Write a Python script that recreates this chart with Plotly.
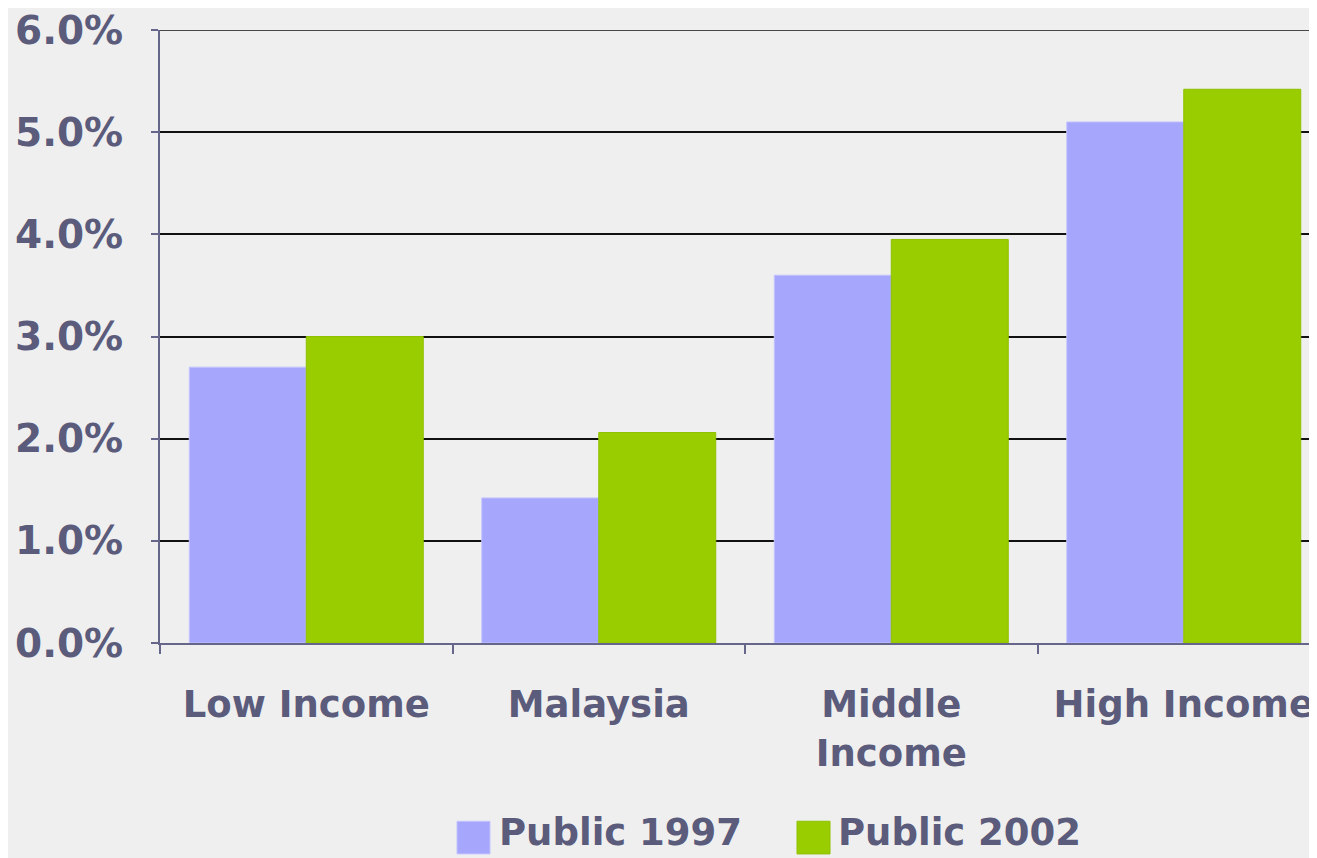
import plotly.graph_objects as go

categories = ['Low Income', 'Malaysia', 'Middle<br>Income', 'High Income']
public_1997 = [2.7, 1.42, 3.6, 5.1]
public_2002 = [3.0, 2.06, 3.95, 5.42]
y_ticks = [0, 1, 2, 3, 4, 5, 6]

text_color = '#5b5b7b'
axis_color = '#66668a'
col_1997 = '#a6a6fc'
col_2002 = '#9acd00'
font_main = 'DejaVu Sans'

fig = go.Figure()
fig.add_trace(go.Bar(x=categories, y=public_1997, name='Public 1997',
                     marker=dict(color=col_1997, line=dict(color='#c4c4ff', width=1)),
                     showlegend=False))
fig.add_trace(go.Bar(x=categories, y=public_2002, name='Public 2002',
                     marker=dict(color=col_2002, line=dict(color='#8fc000', width=1)),
                     showlegend=False))

# category width in px is ~292.5, the last one runs off the right edge
fig.update_xaxes(range=[-0.5, -0.5 + 1157 / 292.5], tickson='boundaries',
                 ticks='outside', ticklen=9, tickwidth=2, tickcolor=axis_color,
                 showline=True, linecolor=axis_color, linewidth=2,
                 showgrid=False, ticklabelstandoff=28,
                 tickfont=dict(family=font_main, size=37, color=text_color, weight='bold'))
fig.update_yaxes(range=[0, 6], tickvals=y_ticks,
                 ticktext=[f'{v:.1f}%' for v in y_ticks],
                 ticks='outside', ticklen=7, tickwidth=2, tickcolor=axis_color,
                 showline=True, linecolor=axis_color, linewidth=2,
                 showgrid=True, gridcolor='#111111', gridwidth=1.5,
                 zeroline=False, ticklabelstandoff=20, ticklabeloverflow='allow',
                 tickfont=dict(family=font_main, size=39, color=text_color, weight='bold'))

# top gridline at 6.0% (plotly drops the one on the plot edge)
fig.add_shape(type='line', xref='paper', yref='y', x0=0, x1=1, y0=6, y1=6,
              line=dict(color='#111111', width=1.5))

# page has an 8px body margin, so coordinates below are in screen px
W = 1157.0
H = 619.0
def px(x):
    return (x - 160) / W
def py(y):
    return (643 - y) / H

# legend drawn by hand so the swatches can be large
legend_items = [('Public 1997', col_1997, '#c4c4ff', 457, 497),
                ('Public 2002', col_2002, '#8fc000', 797, 836)]
for label, col, line_col, sx, tx in legend_items:
    fig.add_shape(type='rect', xref='paper', yref='paper',
                  x0=px(sx), x1=px(sx + 33), y0=py(856), y1=py(823),
                  fillcolor=col, line=dict(color=line_col, width=1))
    fig.add_annotation(text=label, xref='paper', yref='paper',
                       x=px(tx), y=py(858), xanchor='left', yanchor='bottom',
                       showarrow=False,
                       font=dict(family=font_main, size=37, color=text_color, weight='bold'))

fig.update_layout(width=1309, height=850, barmode='group', bargap=0.2, bargroupgap=0,
                  margin=dict(l=152, r=0, t=16, b=215),
                  paper_bgcolor='#efefef', plot_bgcolor='#efefef')

fig.write_html('out.html')
